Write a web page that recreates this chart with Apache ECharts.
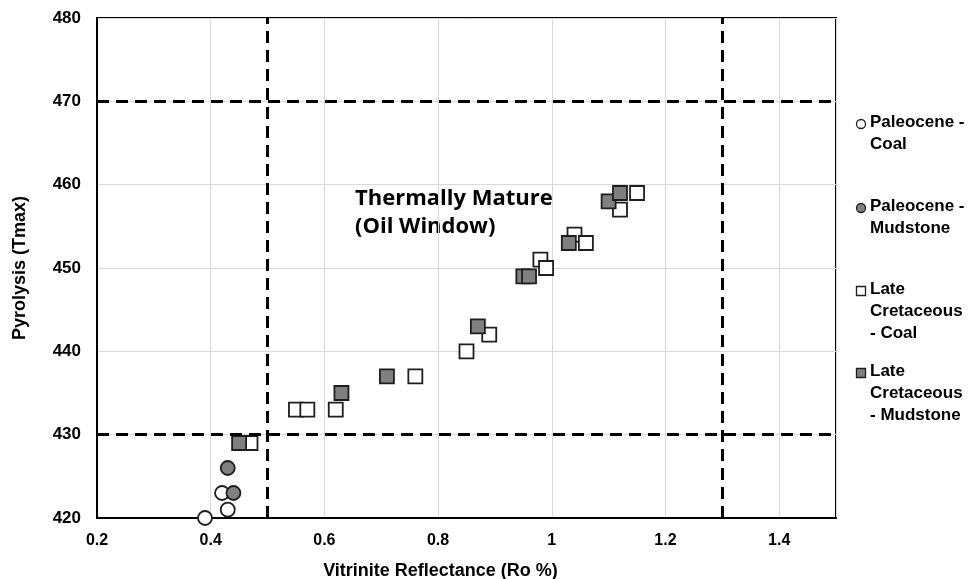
<!DOCTYPE html>
<html>
<head>
<meta charset="utf-8">
<script src="https://cdn.jsdelivr.net/npm/echarts@6/dist/echarts.min.js"></script>
<style>
  html, body { margin: 0; padding: 0; background: #fff; }
  #chart { width: 971px; height: 579px; }
</style>
</head>
<body>
<div id="chart"></div>
<script>
// Vitrinite reflectance (Ro %) vs. pyrolysis Tmax, by formation and lithology
const seriesNames = ['Paleocene - Coal', 'Paleocene - Mudstone', 'Late Cretaceous - Coal', 'Late Cretaceous - Mudstone'];
const legendLines = [
  ['Paleocene -', 'Coal'],
  ['Paleocene -', 'Mudstone'],
  ['Late', 'Cretaceous', '- Coal'],
  ['Late', 'Cretaceous', '- Mudstone']
];

const paleoceneCoal = [[0.39, 420], [0.42, 423], [0.43, 421]];
const paleoceneMudstone = [[0.43, 426], [0.44, 423]];
const lateCretaceousCoal = [
  [0.47, 429], [0.55, 433], [0.57, 433], [0.62, 433], [0.76, 437], [0.85, 440],
  [0.89, 442], [0.98, 451], [0.99, 450], [1.04, 454], [1.06, 453], [1.12, 457], [1.15, 459]
];
const lateCretaceousMudstone = [
  [0.45, 429], [0.63, 435], [0.71, 437], [0.87, 443], [0.95, 449], [0.96, 449],
  [1.03, 453], [1.10, 458], [1.12, 459]
];

// Maturity thresholds
const roLimits = [0.5, 1.3];
const tmaxLimits = [430, 470];

const xTicks = [0.2, 0.4, 0.6, 0.8, 1, 1.2, 1.4];
const yTicks = [420, 430, 440, 450, 460, 470, 480];

const zoneLabel = ['Thermally Mature', '(Oil Window)'];

const chart = echarts.init(document.getElementById('chart'), null, { renderer: 'canvas' });

const boldFont = '"Liberation Sans", Arial, sans-serif';
const edge = '#1e1e1e';
const gray = '#808080';

const styles = [
  { symbol: 'circle', fill: '#ffffff' },
  { symbol: 'circle', fill: gray },
  { symbol: 'rect', fill: '#ffffff' },
  { symbol: 'rect', fill: gray }
];
const datasets = [paleoceneCoal, paleoceneMudstone, lateCretaceousCoal, lateCretaceousMudstone];

const series = datasets.map((d, i) => ({
  name: seriesNames[i],
  type: 'scatter',
  data: d,
  symbol: styles[i].symbol,
  symbolSize: 14,
  itemStyle: { color: styles[i].fill, borderColor: edge, borderWidth: 1.8, opacity: 1 },
  z: 3
}));

// Threshold dashes
series.push({
  type: 'scatter',
  data: [],
  silent: true,
  z: 2,
  markLine: {
    silent: true,
    symbol: ['none', 'none'],
    label: { show: false },
    lineStyle: { color: '#000', width: 3, type: [12, 7] },
    data: roLimits.map(v => ({ xAxis: v })).concat(tmaxLimits.map(v => ({ yAxis: v })))
  }
});

// Legend drawn as graphic elements so multi-line names align with their first line
const legendTop = [124, 208, 291, 373];
const lineH = 22;
const legendGraphics = [];
legendLines.forEach((lines, i) => {
  const cy = legendTop[i];
  if (styles[i].symbol === 'circle') {
    legendGraphics.push({
      type: 'circle', shape: { cx: 861, cy: cy, r: 4.5 },
      style: { fill: styles[i].fill, stroke: edge, lineWidth: 1.3 }
    });
  } else {
    legendGraphics.push({
      type: 'rect', shape: { x: 856.5, y: cy - 4.5, width: 9, height: 9 },
      style: { fill: styles[i].fill, stroke: edge, lineWidth: 1.3 }
    });
  }
  lines.forEach((t, k) => {
    legendGraphics.push({
      type: 'text', left: 870, top: cy + k * lineH - 10,
      style: { text: t, font: 'bold 17px ' + boldFont, fill: '#000' }
    });
  });
});

chart.setOption({
  animation: false,
  backgroundColor: '#fff',
  grid: {
    left: 97, right: 135, top: 18, bottom: 61,
    containLabel: false, outerBoundsMode: 'none',
    show: true, borderColor: '#000', borderWidth: 2, backgroundColor: 'transparent'
  },
  xAxis: {
    type: 'value', min: 0.2, max: 1.5, interval: 0.2,
    name: 'Vitrinite Reflectance (Ro %)', nameLocation: 'middle', nameGap: 44,
    nameTextStyle: {
      fontFamily: boldFont, fontWeight: 'bold', fontSize: 18, color: '#000',
      padding: [0, 52, 0, 0]
    },
    axisLine: { show: true, lineStyle: { color: '#000', width: 2 } },
    axisTick: { show: false },
    splitLine: { show: true, lineStyle: { color: '#d9d9d9', width: 1 } },
    axisLabel: {
      fontFamily: boldFont, fontWeight: 'bold', fontSize: 16, color: '#000', margin: 15,
      showMaxLabel: false,
      formatter: v => {
        const t = xTicks.find(x => Math.abs(x - v) < 1e-6);
        return t === undefined ? '' : String(t);
      }
    }
  },
  yAxis: {
    type: 'value', min: 420, max: 480, interval: 10,
    name: 'Pyrolysis (Tmax)', nameLocation: 'middle', nameGap: 68,
    nameTextStyle: { fontFamily: boldFont, fontWeight: 'bold', fontSize: 18, color: '#000' },
    axisLine: { show: true, lineStyle: { color: '#000', width: 2 } },
    axisTick: { show: false },
    splitLine: { show: true, lineStyle: { color: '#d9d9d9', width: 1 } },
    axisLabel: {
      fontFamily: boldFont, fontWeight: 'bold', fontSize: 17, color: '#000', margin: 16,
      padding: [5, 0, 0, 0],
      formatter: v => (yTicks.indexOf(v) >= 0 ? String(v) : '')
    }
  },
  series: series,
  graphic: [
    {
      type: 'text', left: 355, top: 185,
      style: {
        text: zoneLabel.join('\n'), font: 'bold 22px "Open Sans", sans-serif',
        fill: '#000', lineHeight: 28
      }
    }
  ].concat(legendGraphics)
});
</script>
</body>
</html>
